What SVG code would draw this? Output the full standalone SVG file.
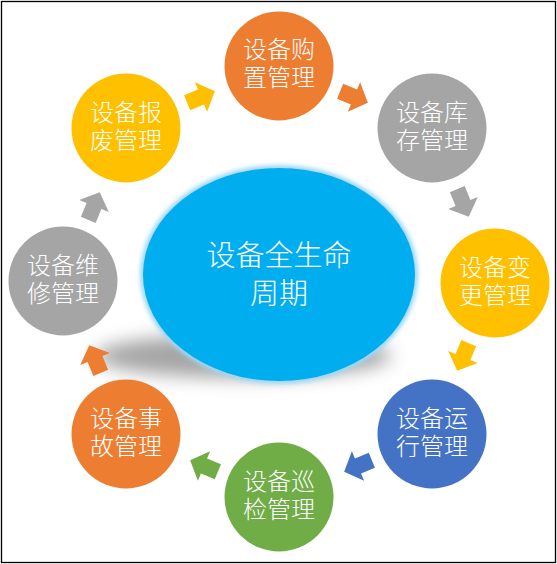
<svg xmlns="http://www.w3.org/2000/svg" xmlns:xlink="http://www.w3.org/1999/xlink" width="557" height="564" viewBox="0 0 557 564">
  <style>
    .lbl { font-family: "Noto Sans CJK SC", "Noto Sans", sans-serif; fill: #ffffff; text-anchor: middle; font-weight: 300; }
    .node-text { font-size: 24px; }
    .center-text { font-size: 29px; }
    .orange { fill: #ED7D31; }
    .yellow { fill: #FFC000; }
    .gray { fill: #A5A5A5; }
    .blue { fill: #4472C4; }
    .green { fill: #70AD47; }
  </style>
  <defs>
    <path id="arrow" d="M-15,-8 L0,-8 L0,-16 L15,0 L0,16 L0,8 L-15,8 Z"/>
    <filter id="shadowBlur" x="-30%" y="-100%" width="160%" height="300%">
      <feGaussianBlur stdDeviation="9"/>
    </filter>
    <filter id="glow" x="-10%" y="-10%" width="120%" height="120%">
      <feGaussianBlur stdDeviation="2"/>
    </filter>
  </defs>
  <rect x="0" y="0" width="557" height="564" fill="#ffffff"/>
  <rect x="1.5" y="1.5" width="554" height="561" fill="none" stroke="#000000" stroke-width="1.3"/>

  <g id="center">
    <ellipse cx="243" cy="356" rx="148" ry="22" fill="#8f8f8f" opacity="0.8" filter="url(#shadowBlur)"/>
    <ellipse cx="279" cy="274.5" rx="139" ry="109.5" fill="#9fd8f5" filter="url(#glow)"/>
    <ellipse cx="279" cy="274.5" rx="136" ry="106.5" fill="#00AEEF"/>
    <text class="lbl center-text" x="279" y="266">设备全生命<tspan x="279" y="304">周期</tspan></text>
  </g>

  <g id="connectors">
    <use xlink:href="#arrow" class="yellow" transform="translate(201,97) rotate(-22.5)"/>
    <use xlink:href="#arrow" class="orange" transform="translate(354,97) rotate(22.5)"/>
    <use xlink:href="#arrow" class="gray" transform="translate(463,203) rotate(67.5)"/>
    <use xlink:href="#arrow" class="yellow" transform="translate(463,357) rotate(112.5)"/>
    <use xlink:href="#arrow" class="blue" transform="translate(358,466) rotate(157.5)"/>
    <use xlink:href="#arrow" class="green" transform="translate(204,466) rotate(202.5)"/>
    <use xlink:href="#arrow" class="orange" transform="translate(95,359) rotate(247.5)"/>
    <use xlink:href="#arrow" class="gray" transform="translate(94,206) rotate(292.5)"/>
  </g>

  <g id="node-purchase">
    <circle cx="279" cy="66" r="54.5" class="orange"/>
    <text class="lbl node-text" x="279" y="58">设备购<tspan x="279" y="86">置管理</tspan></text>
  </g>
  <g id="node-inventory">
    <circle cx="432" cy="128" r="54.5" class="gray"/>
    <text class="lbl node-text" x="432" y="121">设备库<tspan x="432" y="149">存管理</tspan></text>
  </g>
  <g id="node-change">
    <circle cx="495" cy="283" r="54.5" class="yellow"/>
    <text class="lbl node-text" x="495" y="276">设备变<tspan x="495" y="304">更管理</tspan></text>
  </g>
  <g id="node-operation">
    <circle cx="432" cy="434" r="54.5" class="blue"/>
    <text class="lbl node-text" x="432" y="427">设备运<tspan x="432" y="455">行管理</tspan></text>
  </g>
  <g id="node-inspection">
    <circle cx="279" cy="497" r="54.5" class="green"/>
    <text class="lbl node-text" x="279" y="490">设备巡<tspan x="279" y="518">检管理</tspan></text>
  </g>
  <g id="node-accident">
    <circle cx="126" cy="434" r="54.5" class="orange"/>
    <text class="lbl node-text" x="126" y="427">设备事<tspan x="126" y="455">故管理</tspan></text>
  </g>
  <g id="node-maintenance">
    <circle cx="63" cy="281" r="54.5" class="gray"/>
    <text class="lbl node-text" x="63" y="274">设备维<tspan x="63" y="302">修管理</tspan></text>
  </g>
  <g id="node-scrap">
    <circle cx="126" cy="128" r="54.5" class="yellow"/>
    <text class="lbl node-text" x="126" y="121">设备报<tspan x="126" y="149">废管理</tspan></text>
  </g>
</svg>
